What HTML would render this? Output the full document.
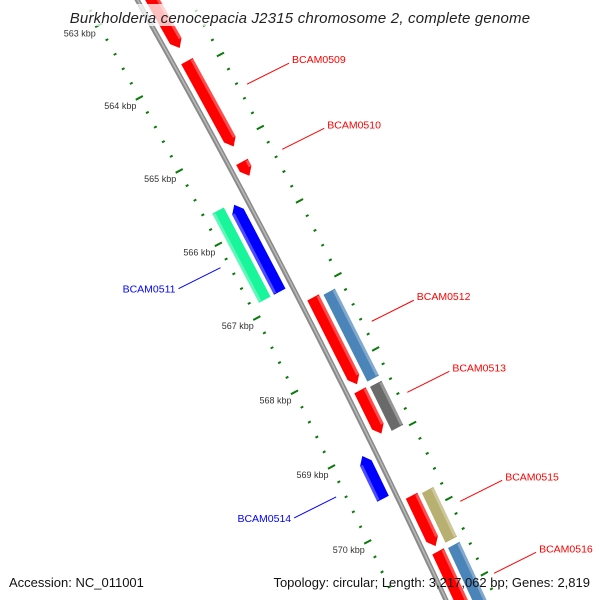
<!DOCTYPE html>
<html><head><meta charset="utf-8"><style>
body{margin:0;background:#fff;overflow:hidden}
svg{display:block;font-family:"Liberation Sans","DejaVu Sans",sans-serif}
</style></head><body>
<svg id="map" width="600" height="600" viewBox="0 0 600 600">
<g id="trk"></g>
<g id="ann"></g>
<rect x="60" y="4" width="480" height="22" fill="#fff" opacity="0.75"/>
<text x="300" y="23" text-anchor="middle" font-size="15" letter-spacing="0.2" font-style="italic" fill="#222">Burkholderia cenocepacia J2315 chromosome 2, complete genome</text>
<text x="9" y="587" font-size="13" fill="#111">Accession: NC_011001</text>
<text x="590" y="587" text-anchor="end" font-size="13" fill="#111">Topology: circular; Length: 3,217,062 bp; Genes: 2,819</text>
</svg>
<script>
const geneNames=["","BCAM0509","BCAM0510","BCAM0511","","BCAM0512","","BCAM0513","","BCAM0514","BCAM0515","","BCAM0516",""];
const geneStart=[562.4,563.88,565.26,565.67,565.64,567.1,567.13,568.35,568.37,569.06,569.76,569.79,570.5,570.52];
const geneEnd=[563.7,565.05,565.45,566.85,566.85,568.27,568.3,568.93,568.96,569.63,570.43,570.45,571.6,571.6];
const geneStrand=[1,1,1,-1,-1,1,1,1,1,-1,1,1,1,1];
const geneTrack=[1,1,1,1,2,1,2,1,2,1,1,2,1,2];
const geneColor=["#ff0000","#ff0000","#ff0000","#0000ff","#19f59a","#ff0000","#4a84b8","#ff0000","#6a6a6a","#0000ff","#ff0000","#b8b070","#ff0000","#4a84b8"];
const tickMajor=[563,564,565,566,567,568,569,570,571];
const tickLabels=["563 kbp","564 kbp","565 kbp","566 kbp","567 kbp","568 kbp","569 kbp","570 kbp","571 kbp"];
const NS="http://www.w3.org/2000/svg";
const trk=document.getElementById('trk'), ann=document.getElementById('ann');
const K=83.2, Y0=86, C=Math.cos(28.15*Math.PI/180), S=Math.sin(28.15*Math.PI/180);
function ly(k){return Y0+(k-564)*K;}
function P(x,y){const xc=x-(y-200)*(y-200)/16800;return [140+xc*C+y*S, -xc*S+y*C];}
function poly(pts){return pts.map(p=>P(p[0],p[1]).map(v=>v.toFixed(1)).join(',')).join(' ');}
function rectPts(x1,x2,y1,y2){const a=[];for(let y=y1;y<y2;y+=20)a.push([x1,y]);a.push([x1,y2]);const b=[];for(let y=y1;y<y2;y+=20)b.push([x2,y]);b.push([x2,y2]);return a.concat(b.reverse());}
function mk(p,tag,a){const e=document.createElementNS(NS,tag);for(const k in a)e.setAttribute(k,a[k]);p.appendChild(e);return e;}
let bb=mk(trk,'polygon',{points:poly(rectPts(-2.5,2.5,-60,760)),fill:'#8a8a8a'});


let bb2=mk(trk,'polygon',{points:poly(rectPts(-0.5,1,-60,760)),fill:'#b8b8b8'});


for(let k=562;k<=572.001;k+=0.2){
  const kk=Math.round(k*10)/10, major=Math.abs(kk-Math.round(kk))<0.01;
  const L=major?8:3, y=ly(kk);
  for(const s of [-1,1]){
    const t=mk(trk,'polygon',{points:poly([[s*46-L/2,y-1],[s*46+L/2,y-1],[s*46+L/2,y+1],[s*46-L/2,y+1]]),fill:'#0a7a0a'});
    
    
  }
}
tickMajor.forEach((k,i)=>{
  const p=P(-46,ly(k));
  const t=mk(ann,'text',{x:p[0]-3,y:p[1]+11,'text-anchor':'end','font-size':9,fill:'#333'});
  t.textContent=tickLabels[i];
  
  
});
geneStart.forEach((s,i)=>{
  const y1=ly(s), y2=ly(geneEnd[i]), st=geneStrand[i], tr=geneTrack[i];
  const inner=tr==1?7:24, outer=tr==1?20:37;
  const x1=st*inner, x2=st*outer, H=Math.min(8,(y2-y1)/2);
  let pts;
  if(tr==1){
    if(st==1) pts=[[x1,y1],[x2,y1],[x2,y2-H],[(x1+x2)/2,y2],[x1,y2-H]];
    else pts=[[x1,y2],[x2,y2],[x2,y1+H],[(x1+x2)/2,y1],[x1,y1+H]];
  } else pts=[[x1,y1],[x2,y1],[x2,y2],[x1,y2]];
  const g=mk(trk,'polygon',{points:poly(pts),fill:geneColor[i]});
  
  
  const hx=st==1?Math.max(x1,x2)-3:Math.min(x1,x2);
  const hy1=st==1||tr==2?y1+1:y1+H, hy2=st==1&&tr==1?y2-H:y2-1;
  const hl=mk(trk,'polygon',{points:poly([[hx,hy1],[hx+3,hy1],[hx+3,hy2],[hx,hy2]]),fill:'#fff',opacity:0.3});
  
  
  if(geneNames[i]){
    const p=P(st*55,(y1+y2)/2), col=st==1?'#ff0000':'#0000ff';
    const q=[p[0]+st*42,p[1]-st*21];
    const l=mk(ann,'line',{x1:p[0],y1:p[1],x2:q[0],y2:q[1],stroke:col,'stroke-width':1});
    
    
    const t=mk(ann,'text',{x:q[0]+st*3,y:q[1]+(st==1?0:4),'text-anchor':st==1?'start':'end','font-size':10.5,fill:col});
    t.textContent=geneNames[i];
    
    
  }
});
</script>
</body></html>
